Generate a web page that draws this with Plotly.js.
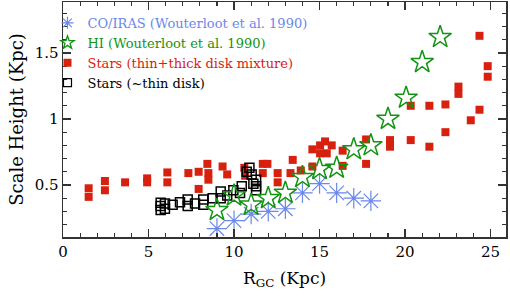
<!DOCTYPE html>
<html><head><meta charset="utf-8">
<script src="https://cdn.plot.ly/plotly-3.0.1.min.js"></script>
<style>html,body{margin:0;padding:0;background:#fff}#c{width:510px;height:296px}</style>
</head><body><div id="c"></div>
<script>
// CO/IRAS (Wouterloot et al. 1990)
const coR = [9, 10, 11, 12, 13, 14, 15, 16, 17, 18];
const coH = [0.17, 0.23, 0.28, 0.30, 0.32, 0.44, 0.51, 0.44, 0.40, 0.38];
// HI (Wouterloot et al. 1990)
const hiR = [9, 10, 11, 12, 13, 14, 15, 16, 17, 18, 19, 20.06, 21, 22.05];
const hiH = [0.31, 0.42, 0.35, 0.40, 0.44, 0.56, 0.62, 0.63, 0.77, 0.80, 1.0, 1.16, 1.43, 1.62];
// Stars (thin+thick disk mixture)
const mixR = [1.5, 1.5, 2.45, 2.45, 3.63, 4.92, 4.92, 6.1, 6.1, 7.33, 7.93, 7.93, 8.44, 8.5, 8.5,
  9.33, 9.6, 10.6, 10.65, 11.68, 11.95, 11.68, 12.55, 12.55, 13.43, 13.3, 13.9, 14.58, 14.58,
  15.03, 15.32, 15.71, 15.42, 15.03, 16.35, 16.35, 17.72, 17.72, 19.12, 19.12, 20.33, 20.33,
  21.42, 21.42, 22.36, 22.36, 23.12, 23.12, 23.84, 24.35, 24.35, 24.83, 24.83];
const mixH = [0.475, 0.41, 0.53, 0.46, 0.52, 0.55, 0.52, 0.595, 0.52, 0.59, 0.60, 0.47, 0.66, 0.59, 0.54,
  0.64, 0.58, 0.63, 0.57, 0.66, 0.66, 0.59, 0.59, 0.52, 0.69, 0.59, 0.61, 0.77, 0.64,
  0.80, 0.83, 0.80, 0.74, 0.74, 0.76, 0.645, 0.845, 0.66, 0.84, 0.79, 0.84, 1.10,
  1.10, 0.79, 1.11, 0.90, 1.245, 1.19, 0.99, 1.07, 1.63, 1.40, 1.32];
// Stars (~thin disk)
const thinR = [5.71, 5.71, 5.71, 5.96, 5.96, 6.41, 6.84, 7.29, 7.29, 7.72, 8.2, 8.2, 8.75, 9.22, 9.22,
  9.6, 9.96, 10.35, 10.45, 10.74, 10.9, 11.03, 11.13, 11.29, 11.29, 11.29];
const thinH = [0.366, 0.31, 0.34, 0.32, 0.36, 0.35, 0.37, 0.39, 0.34, 0.36, 0.39, 0.35, 0.40, 0.45, 0.40,
  0.42, 0.46, 0.44, 0.49, 0.60, 0.63, 0.58, 0.51, 0.54, 0.49, 0.46];

const blue = '#6a87ea', green = '#129412', red = '#d8200f';
const F = 'DejaVu Serif, serif';

const nameCO = '<span style="color:' + blue + '">CO/IRAS (Wouterloot et al. 1990)</span>';
const nameHI = '<span style="color:' + green + '">HI (Wouterloot et al. 1990)</span>';
const nameMix = '<span style="color:' + red + '">Stars (thin+thick disk mixture)</span>';
const nameThin = 'Stars (~thin disk)';

const mkCO = {symbol: 'asterisk-open', color: blue, line: {width: 1.2, color: blue}};
const mkHI = {symbol: 'star-open', color: green, line: {width: 1.5, color: green}};
const mkMix = {symbol: 'square', color: red, line: {width: 0}};
const mkThin = {symbol: 'square-open', color: '#000', line: {width: 1.5, color: '#000'}};

const traces = [
  {x: mixR, y: mixH, mode: 'markers', type: 'scatter', showlegend: false,
   marker: Object.assign({size: 8}, mkMix)},
  {x: coR, y: coH, mode: 'markers', type: 'scatter', showlegend: false,
   marker: Object.assign({size: 17}, mkCO)},
  {x: thinR, y: thinH, mode: 'markers', type: 'scatter', showlegend: false,
   marker: Object.assign({size: 9}, mkThin)},
  {x: hiR, y: hiH, mode: 'markers', type: 'scatter', showlegend: false,
   marker: Object.assign({size: 17}, mkHI)},
  // legend-only entries (no data points)
  {x: [null], y: [null], mode: 'markers', type: 'scatter', name: nameCO, legendrank: 1,
   marker: Object.assign({size: 10}, mkCO)},
  {x: [null], y: [null], mode: 'markers', type: 'scatter', name: nameHI, legendrank: 2,
   marker: Object.assign({size: 10}, mkHI, {line: {width: 1.3, color: green}})},
  {x: [null], y: [null], mode: 'markers', type: 'scatter', name: nameMix, legendrank: 3,
   marker: Object.assign({size: 8}, mkMix)},
  {x: [null], y: [null], mode: 'markers', type: 'scatter', name: nameThin, legendrank: 4,
   marker: Object.assign({size: 8}, mkThin, {line: {width: 1.2, color: '#000'}})}
];

const axisCommon = {
  showgrid: false, zeroline: false, showline: true, linecolor: '#333', linewidth: 1.5,
  mirror: 'allticks', ticks: 'inside', ticklen: 8, tickwidth: 1.5, tickcolor: '#333',
  tickfont: {family: F, size: 15, color: '#000'}
};

const layout = {
  width: 510, height: 296,
  margin: {l: 63, r: 4, t: 2, b: 59},
  paper_bgcolor: '#fff', plot_bgcolor: '#fff',
  font: {family: F, color: '#000'},
  xaxis: Object.assign({}, axisCommon, {
    range: [0, 25.9], dtick: 5, tick0: 0,
    minor: {dtick: 1, ticks: 'inside', ticklen: 4, tickwidth: 1.2, tickcolor: '#333'},
    title: {text: 'R<sub>GC</sub> (Kpc)', font: {family: F, size: 17}, standoff: 12}
  }),
  yaxis: Object.assign({}, axisCommon, {
    range: [0.106, 1.886], dtick: 0.5, tick0: 0,
    minor: {dtick: 0.1, ticks: 'inside', ticklen: 4, tickwidth: 1.2, tickcolor: '#333'},
    title: {text: 'Scale Height (Kpc)', font: {family: F, size: 18}, standoff: 6}
  }),
  showlegend: true,
  legend: {x: -0.035, y: 0.975, xanchor: 'left', yanchor: 'top', bgcolor: 'rgba(0,0,0,0)',
    font: {family: F, size: 13, color: '#000'}, itemwidth: 30, itemsizing: 'trace',
    tracegroupgap: 0, traceorder: 'normal'}
};

Plotly.newPlot('c', traces, layout, {staticPlot: true, displayModeBar: false});
</script></body></html>
